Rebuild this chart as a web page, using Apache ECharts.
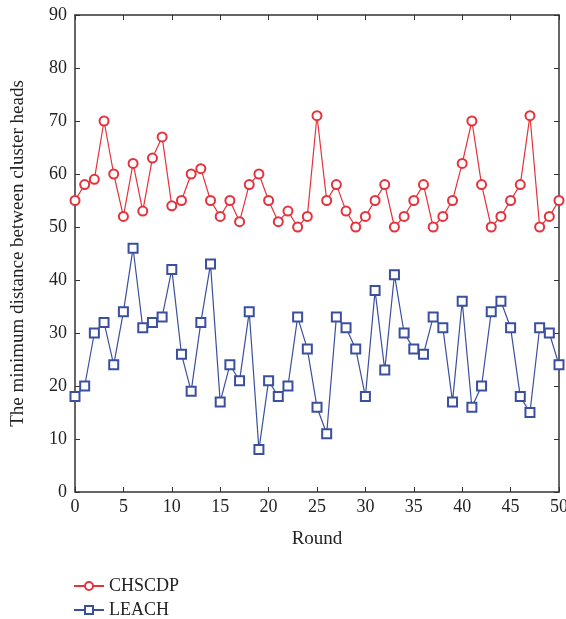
<!DOCTYPE html>
<html>
<head>
<meta charset="utf-8">
<script src="https://cdn.jsdelivr.net/npm/echarts@6/dist/echarts.min.js"></script>
<style>html,body{margin:0;padding:0;background:#fff;}#c{width:566px;height:619px;}</style>
</head>
<body>
<div id="c"></div>
<script>
const rounds = Array.from({length: 51}, (_, i) => i);
const chscdp = [55,58,59,70,60,52,62,53,63,67,54,55,60,61,55,52,55,51,58,60,55,51,53,50,52,71,55,58,53,50,52,55,58,50,52,55,58,50,52,55,62,70,58,50,52,55,58,71,50,52,55];
const leach = [18,20,30,32,24,34,46,31,32,33,42,26,19,32,43,17,24,21,34,8,21,18,20,33,27,16,11,33,31,27,18,38,23,41,30,27,26,33,31,17,36,16,20,34,36,31,18,15,31,30,24];
const seriesNames = ['CHSCDP', 'LEACH'];
const xLabel = 'Round';
const yLabel = 'The minimum distance between cluster heads';

const font = 'Liberation Serif';
const axisColor = '#333';
const chart = echarts.init(document.getElementById('c'));
const pair = (arr) => arr.map((v, i) => [rounds[i], v]);
const baseAxis = {
  axisLine: {show: true, onZero: false, lineStyle: {color: axisColor, width: 1.5}},
  axisTick: {show: true, inside: true, length: 5, lineStyle: {color: axisColor, width: 1}},
  splitLine: {show: false}
};
chart.setOption({
  animation: false,
  backgroundColor: '#fff',
  grid: {left: 75, right: 7, top: 15, bottom: 127, containLabel: false, outerBoundsMode: 'none'},
  legend: {
    orient: 'vertical', left: 68, top: 572, height: 60, itemWidth: 30, itemHeight: 10, itemGap: 6,
    textStyle: {fontFamily: font, fontSize: 18, color: '#222'},
    data: seriesNames
  },
  xAxis: [
    Object.assign({}, baseAxis, {
      type: 'value', min: 0, max: 50, interval: 5, position: 'bottom',
      name: xLabel, nameLocation: 'middle', nameGap: 38,
      nameTextStyle: {fontFamily: font, fontSize: 19, color: '#222'},
      axisLabel: {fontFamily: font, fontSize: 18, color: '#222', margin: 6}
    }),
    Object.assign({}, baseAxis, {
      type: 'value', min: 0, max: 50, interval: 5, position: 'top',
      axisLabel: {show: false}
    })
  ],
  yAxis: [
    Object.assign({}, baseAxis, {
      type: 'value', min: 0, max: 90, interval: 10, position: 'left',
      name: yLabel, nameLocation: 'middle', nameGap: 47,
      nameTextStyle: {fontFamily: font, fontSize: 19, color: '#222'},
      axisLabel: {fontFamily: font, fontSize: 18, color: '#222', margin: 8}
    }),
    Object.assign({}, baseAxis, {
      type: 'value', min: 0, max: 90, interval: 10, position: 'right',
      axisLabel: {show: false}
    })
  ],
  series: [
    {
      name: seriesNames[0], type: 'line', data: pair(chscdp),
      symbol: 'emptyCircle', symbolSize: 9,
      lineStyle: {color: '#e5323c', width: 1.2},
      itemStyle: {color: '#e5323c', borderWidth: 1.2}
    },
    {
      name: seriesNames[1], type: 'line', data: pair(leach),
      symbol: 'emptyRect', symbolSize: 9,
      lineStyle: {color: '#3a4f9e', width: 1.2},
      itemStyle: {color: '#3a4f9e', borderWidth: 1.2}
    }
  ]
});
</script>
</body>
</html>
